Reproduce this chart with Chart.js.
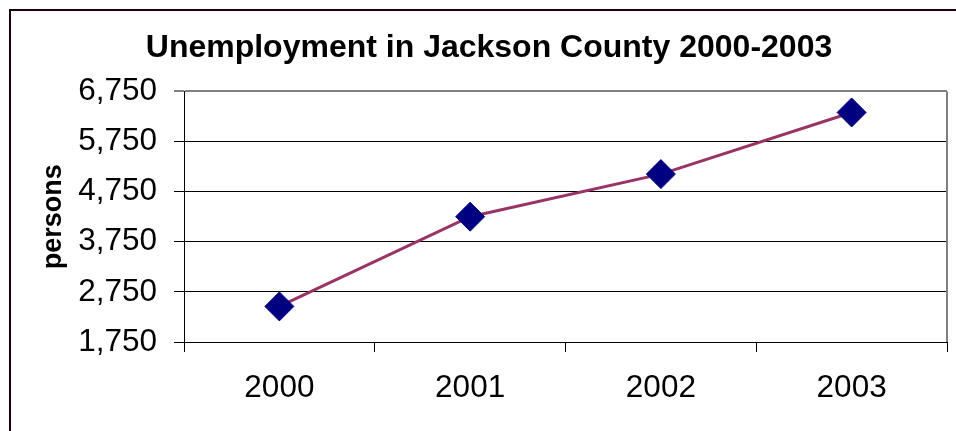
<!DOCTYPE html>
<html>
<head>
<meta charset="utf-8">
<script src="https://cdn.jsdelivr.net/npm/chart.js@4"></script>
<style>
  html, body { margin: 0; padding: 0; background: #fff; }
  #wrap { position: relative; width: 956px; height: 431px; overflow: hidden; }
  #frame { position: absolute; left: 9px; top: 9px; width: 1000px; height: 500px;
           border-left: 2px solid #1a0010; border-top: 2px solid #1a0010; }
  canvas { position: absolute; left: 0; top: 0; }
</style>
</head>
<body>
<div id="wrap">
  <div id="frame"></div>
  <canvas id="lineChart" width="956" height="431"></canvas>
</div>
<script>
// Dữ liệu biểu đồ
const years = ['2000', '2001', '2002', '2003'];
const persons = [2460, 4250, 5100, 6330];
const yTicks = [1750, 2750, 3750, 4750, 5750, 6750];

const FONT = "'Liberation Sans', Arial, sans-serif";

// Viền xám bên phải của vùng vẽ
const plotFrame = {
    id: 'plotFrame',
    beforeDatasetsDraw(chart) {
        const { ctx, chartArea } = chart;
        ctx.save();
        ctx.strokeStyle = '#808080';
        ctx.lineWidth = 2;
        ctx.beginPath();
        ctx.moveTo(chartArea.right, chartArea.top);
        ctx.lineTo(chartArea.right, chartArea.bottom);
        ctx.stroke();
        ctx.restore();
    }
};

const ctx = document.getElementById('lineChart').getContext('2d');
new Chart(ctx, {
    type: 'line',
    data: {
        labels: years,
        datasets: [{
            label: 'persons',
            data: persons,
            borderColor: '#993366',
            borderWidth: 3,
            tension: 0,
            pointStyle: 'rectRot',
            pointRadius: 14.5,
            pointHoverRadius: 14.5,
            pointBackgroundColor: '#000080',
            pointBorderColor: '#000080',
            pointBorderWidth: 1
        }]
    },
    options: {
        responsive: false,
        animation: false,
        layout: { autoPadding: false, padding: { top: 10, left: 31, right: 9, bottom: 0 } },
        plugins: {
            legend: { display: false },
            tooltip: { enabled: false },
            title: {
                display: true,
                text: 'Unemployment in Jackson County 2000-2003',
                color: '#000',
                font: { family: FONT, size: 32, weight: 'bold' },
                padding: { top: 19, bottom: 24 }
            }
        },
        scales: {
            x: {
                offset: true,
                afterFit: s => { s.height = 89; },
                grid: {
                    offset: true,
                    drawOnChartArea: false,
                    tickLength: 10,
                    color: '#000'
                },
                border: { color: '#000', width: 1 },
                ticks: {
                    color: '#000',
                    padding: 17,
                    font: { family: FONT, size: 31.5 }
                }
            },
            y: {
                min: yTicks[0],
                max: yTicks[yTicks.length - 1],
                afterFit: s => { s.width = 153; },
                afterBuildTicks: s => { s.ticks = yTicks.map(v => ({ value: v })); },
                grid: {
                    tickLength: 10,
                    color: c => (c.tick && c.tick.value === yTicks[yTicks.length - 1]) ? '#808080' : '#000',
                    lineWidth: c => (c.tick && c.tick.value === yTicks[yTicks.length - 1]) ? 2 : 1
                },
                border: { color: '#000', width: 1 },
                ticks: {
                    color: '#000',
                    padding: 17,
                    font: { family: FONT, size: 31.5 },
                    callback: v => v.toLocaleString('en-US')
                },
                title: {
                    display: true,
                    text: 'persons',
                    color: '#000',
                    font: { family: FONT, size: 27, weight: 'bold' },
                    padding: { top: 6, bottom: 0 }
                }
            }
        }
    },
    plugins: [plotFrame]
});
</script>
</body>
</html>
